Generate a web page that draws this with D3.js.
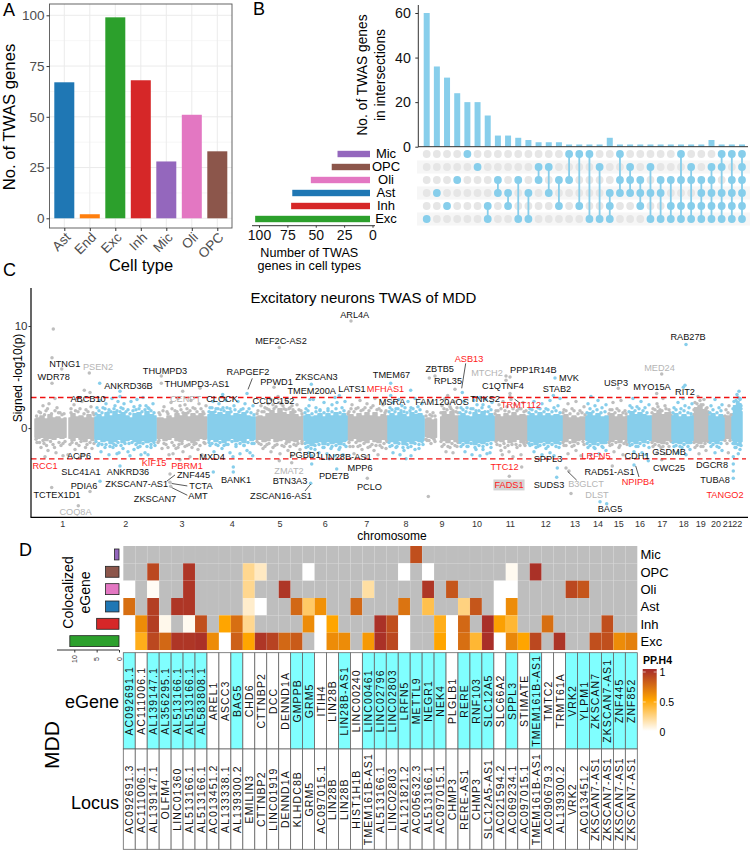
<!DOCTYPE html>
<html><head><meta charset="utf-8">
<style>html,body{margin:0;padding:0;background:#fff}svg{display:block}text{font-family:"Liberation Sans",Arial,sans-serif}</style>
<script src="https://d3js.org/d3.v7.min.js"></script></head>
<body><svg id="c" width="750" height="851"></svg>
<script>
// ---------- Panel A ----------
const cellTypes=["Ast","End","Exc","Inh","Mic","Oli","OPC"];
const twasGenes=[67,2,99,68,28,51,33];
const cellColors=["#1f77b4","#ff7f0e","#2ca02c","#d62728","#9467bd","#e377c2","#8c564b"];
const yTicksA=[0,25,50,75,100];
const minorA=[12.5,37.5,62.5,87.5];
// ---------- Panel B ----------
const setNames=["Mic","OPC","Oli","Ast","Inh","Exc"];
const setSizes=[28,33,51,67,68,99];
const setColors=["#9467bd","#8c564b","#e377c2","#1f77b4","#d62728","#2ca02c"];
const interValues=[60,36,31,24,20,20,14,5,5,4,3,2,2,2,1,1,1,1,4,1,1,1,1,1,1,1,1,1,3,1,1,1];
const interSets=["Exc","Ast","Inh","Oli","Mic","OPC","Inh Exc","Oli Ast","Ast Inh","Oli Exc","Ast Exc","OPC Oli","OPC Ast","Oli Inh","Mic Oli","Mic Inh","Mic Exc","OPC Exc","Ast Inh Exc","Mic Oli Ast","OPC Oli Ast","Oli Ast Inh","OPC Ast Exc","Oli Ast Exc","Oli Inh Exc","Mic Oli Inh Exc","OPC Oli Inh Exc","Oli Ast Inh Exc","OPC Oli Ast Inh Exc","Mic OPC Ast Inh Exc","Mic Oli Ast Inh Exc","Mic OPC Oli Ast Inh Exc"];
const upTicks=[0,20,40,60];
const setTicks=[0,25,50,75,100];
// ---------- Panel C ----------
const chromNames=["1","2","3","4","5","6","7","8","9","10","11","12","13","14","15","16","17","18","19","20","21","22"];
const chromCenters=[31.7,94.7,151,201.3,249,294.3,335.7,375,411,446,479.3,514.7,544,567,587.7,609,631.3,652.7,669.7,685,696.7,706.3];
// dense cores of the clouds: [position, upper edge, lower edge], one list per contiguous block
const coreGray=[
[[4,.9,-.9],[7,1.0,-1.0],[11,1.2,-.9],[15,.9,-1.2],[19,1.3,-1.0],[23,1.0,-1.1],[27,1.1,-.9],[31,.9,-1.0],[35,1.0,-.9]],
[[38,1.0,-1.0],[42,1.4,-1.2],[46,1.1,-.9],[50,1.2,-1.1],[54,1.0,-1.3],[58,1.3,-1.0],[62,1.0,-1.2],[64,1.0,-1.0]],
[[126,1.0,-1.0],[130,1.0,-1.0],[134,.9,-1.2],[138,1.2,-1.1],[142,1.0,-.9],[146,1.4,-1.2],[150,1.2,-1.3],[154,1.5,-1.1],[158,1.1,-1.2],[162,1.4,-1.4],[166,1.2,-1.2],[170,1.4,-1.0],[174,1.1,-1.1],[176,1.1,-1.0]],
[[225,1.1,-1.1],[229,1.2,-1.1],[233,1.1,-1.3],[237,1.4,-1.2],[241,1.7,-1.0],[245,1.4,-1.3],[249,1.9,-1.2],[253,1.5,-1.1],[257,1.3,-1.4],[261,1.6,-1.2],[265,1.3,-1.3],[269,1.1,-1.1],[272,1.2,-1.2]],
[[316,1.2,-1.1],[320,1.3,-1.2],[324,1.1,-1.0],[328,1.4,-1.3],[332,1.2,-1.2],[336,1.5,-1.4],[340,1.2,-1.1],[344,1.5,-1.3],[348,1.1,-1.4],[352,1.3,-1.1],[357,1.2,-1.2]],
[[394,.9,-.8],[398,1.0,-.9],[402,.8,-1.0],[405.5,.9,-.9]],
[[409.7,1.1,-1.1],[413,1.6,-1.2],[417,1.3,-1.4],[421,1.6,-1.1],[425,1.2,-1.3],[428,1.2,-1.2]],
[[463,1.1,-1.2],[467,1.3,-1.2],[471,1.1,-1.3],[475,1.4,-1.1],[479,1.2,-1.4],[483,1.5,-1.3],[487,1.2,-1.1],[491,1.3,-1.4],[497,1.2,-1.2]],
[[531,1.2,-1.2],[535,1.3,-1.3],[539,1.0,-1.0],[543,1.2,-1.4],[547,1.0,-1.2],[551,1.1,-1.1],[555,1.1,-1.1]],
[[577,1.2,-1.2],[581,1.4,-1.3],[585,1.1,-1.1],[589,1.3,-1.4],[593,1.1,-1.1],[597,1.2,-1.2]],
[[620,1.2,-1.2],[624,1.4,-1.3],[628,1.7,-1.4],[632,1.3,-1.5],[636,1.5,-1.2],[641,1.3,-1.2]],
[[662,1.4,-1.2],[665,2.0,-1.4],[669,2.2,-1.5],[673,1.8,-1.3],[678,1.5,-1.2]],
[[693,1.0,-1.0],[697,1.2,-1.0],[701,1.1,-1.0]]
];
const coreBlue=[
[[64,1.1,-1.1],[68,1.3,-1.1],[72,1.1,-1.3],[76,1.5,-1.2],[80,1.2,-1.5],[84,1.6,-1.3],[88,1.3,-1.1],[92,1.5,-1.4],[96,1.2,-1.2],[100,1.0,-1.1],[104,1.4,-1.3],[108,1.5,-1.5],[112,1.2,-1.2],[116,1.6,-1.4],[120,1.3,-1.3],[125,1.2,-1.2]],
[[177,1.3,-1.2],[181,1.6,-1.1],[185,1.3,-1.3],[189,1.5,-1.1],[193,1.3,-1.4],[197,1.6,-1.2],[201,1.2,-1.0],[205,1.4,-1.3],[209,1.3,-1.2],[213,1.5,-1.4],[217,1.2,-1.0],[221,1.1,-1.2],[224,1.1,-1.1]],
[[273,1.2,-1.2],[277,1.3,-1.5],[281,1.1,-1.7],[285,1.2,-1.4],[289,1.4,-1.3],[293,1.1,-1.6],[297,1.4,-1.3],[301,1.2,-1.5],[305,1.5,-1.4],[309,1.2,-1.6],[313,1.4,-1.3],[316,1.2,-1.2]],
[[357,1.2,-1.2],[361,1.4,-1.3],[365,1.2,-1.5],[369,1.5,-1.2],[373,1.3,-1.6],[377,1.1,-1.3],[381,1.5,-1.5],[385,1.3,-1.2],[389,1.4,-1.3],[393,1.2,-1.2]],
[[428,1.2,-1.2],[432,1.4,-1.3],[436,1.2,-1.5],[440,1.1,-1.2],[444,1.5,-1.6],[448,1.3,-1.4],[452,1.6,-1.5],[456,1.2,-1.3],[460,1.4,-1.2],[463,1.2,-1.2]],
[[497,1.2,-1.2],[501,1.4,-1.3],[505,1.2,-1.6],[509,1.5,-1.4],[513,1.2,-1.3],[517,1.4,-1.5],[521,1.2,-1.3],[525,1.3,-1.5],[531,1.2,-1.2]],
[[555,1.2,-1.2],[559,1.5,-1.4],[563,1.2,-1.6],[567,1.4,-1.3],[571,1.1,-1.5],[577,1.2,-1.2]],
[[597,1.2,-1.2],[601,1.6,-1.3],[605,1.3,-1.5],[609,1.5,-1.2],[613,1.3,-1.4],[617,1.2,-1.1],[620,1.2,-1.2]],
[[641,1.2,-1.2],[645,1.4,-1.4],[649,1.1,-1.5],[653,1.3,-1.3],[657,1.1,-1.5],[662,1.2,-1.2]],
[[678,1.2,-1.2],[682,1.4,-1.3],[686,1.1,-1.5],[690,1.3,-1.2],[693,1.2,-1.2]],
[[701,1.4,-1.2],[704,2.2,-1.6],[707,2.6,-1.3],[709,2.4,-1.7],[711,1.6,-1.3]]
];
const pointsGray=[[22.3,9.7],[21,6.9],[30.7,5.8],[21,4.4],[58.3,5.4],[53.3,3.7],[59,3.5],[24,2.9],[14,-2.8],[20.7,-5.8],[59,-6.2],[47.3,-7.6],[49,-2.8],[32,-2.7],[8,1.6],[12,2.2],[15,1.7],[18,2.4],[26,2.0],[29,1.5],[33,1.4],[6,-1.4],[10,-1.9],[13,-1.5],[17,-2.2],[22,-1.6],[25,-2.4],[30,-1.7],[34,-1.3],[40,1.9],[43,2.3],[47,1.6],[51,2.6],[55,1.8],[60,2.1],[62,1.5],[39,-1.6],[44,-2.1],[48,-1.7],[52,-2.6],[56,-1.6],[61,-2.0],[46,2.9],[37,-2.6],
[130.3,5.1],[130.3,4.4],[151.7,3.6],[169,3.9],[139,-4.5],[139,-5.3],[139.7,-5.7],[142,-2.5],[128,1.5],[133,2.1],[136,1.6],[140,2.5],[144,1.7],[147,2.9],[150,1.8],[154,2.3],[157,1.5],[160,2.7],[164,1.9],[168,2.4],[172,1.6],[175,2.2],[127,-1.4],[131,-2.0],[135,-1.6],[138,-2.6],[145,-2.0],[148,-1.6],[152,-2.3],[156,-1.7],[159,-2.8],[163,-1.6],[167,-2.1],[171,-2.6],[174,-1.5],[149,-3.1],
[248.3,7.9],[243,4.0],[237.3,2.4],[248.3,-3.2],[260.7,-3.4],[227,1.7],[230,2.2],[233,1.6],[236,1.9],[240,2.8],[243,1.9],[247,3.1],[250,2.4],[253,1.9],[256,2.6],[259,2.0],[262,1.8],[266,2.3],[270,1.7],[228,-1.5],[232,-2.0],[236,-1.6],[240,-2.3],[244,-1.7],[249,-2.5],[253,-1.8],[257,-2.2],[261,-2.7],[265,-1.7],[269,-2.1],[271,-1.5],
[320,10.5],[336.3,-4.9],[318,1.6],[321,2.3],[325,1.9],[329,2.7],[332,1.8],[336,2.4],[340,2.0],[344,2.9],[348,1.9],[352,2.3],[355,1.7],[319,-1.8],[323,-2.5],[327,-1.8],[331,-2.1],[335,-2.8],[339,-1.8],[343,-2.2],[347,-2.6],[351,-1.9],[355,-2.0],
[398.3,4.9],[404,5.1],[424,3.8],[416.7,3.2],[397.3,-6.7],[396,1.6],[399,1.3],[402,1.5],[411,2.2],[414,2.9],[417,2.4],[420,1.9],[423,2.6],[426,2.0],[396,-1.2],[400,-1.5],[404,-1.3],[411,-1.8],[415,-2.3],[419,-1.9],[422,-2.4],[426,-1.8],
[475,5.1],[479,5.0],[475,4.7],[479,3.4],[479,3.1],[490.7,-3.8],[478.3,-4.7],[471.3,-2.6],[465,1.7],[468,2.3],[472,2.6],[476,2.1],[480,2.8],[484,2.3],[488,1.9],[492,2.5],[495,1.7],[466,-1.6],[470,-2.2],[474,-1.9],[478,-2.3],[482,-2.8],[486,-1.9],[490,-2.6],[494,-1.7],
[540,-6.4],[535,-3.9],[538,-4.2],[533,1.8],[537,2.4],[541,1.9],[545,2.6],[549,1.7],[553,2.1],[533,-1.7],[537,-2.5],[541,-1.8],[545,-2.2],[550,-2.7],[553,-1.6],
[587.3,3.9],[581.3,-3.7],[579,1.8],[582,2.5],[586,1.9],[590,2.7],[594,1.7],[579,-1.7],[583,-2.3],[588,-1.9],[592,-2.6],[596,-1.6],
[630.7,5.3],[625.7,3.4],[632,2.9],[630.7,-3.1],[622,1.9],[626,2.4],[629,1.8],[634,2.2],[638,1.8],[622,-1.8],[626,-2.4],[630,-1.9],[634,-2.5],[638,-1.8],
[664,2.5],[667,3.1],[670,2.3],[673,2.8],[676,2.0],[664,-1.9],[668,-2.5],[672,-1.8],[675,-2.2],[697.3,-2.4],[695,1.8],[698,2.2],[696,-1.5]];
const pointsBlue=[[68.7,4.4],[89,3.6],[89,3.1],[89,-3.7],[69,-5.2],[86,-2.5],[66,2.0],[69,2.7],[72,2.0],[75,2.4],[78,1.8],[81,2.9],[84,2.2],[87,2.6],[90,2.0],[93,2.4],[97,1.8],[100,2.6],[103,2.1],[106,2.8],[109,2.2],[112,3.0],[115,2.2],[118,1.9],[122,2.4],[67,-1.7],[70,-2.3],[74,-1.9],[78,-2.6],[82,-1.9],[85,-1.7],[88,-2.4],[92,-2.0],[97,-2.3],[99,-2.7],[103,-2.1],[107,-1.9],[110,-2.6],[114,-2.4],[117,-2.6],[120,-1.9],[124,-1.7],
[216,3.4],[191.7,3.3],[182.3,-4.3],[202.3,-3.8],[202.3,-4.3],[202,-2.8],[221.7,-2.7],[179,2.0],[182,2.6],[185,1.9],[188,2.4],[192,2.0],[195,2.7],[199,1.9],[203,2.2],[207,2.6],[210,1.8],[214,2.4],[218,1.9],[222,2.2],[179,-1.7],[183,-2.3],[187,-1.7],[191,-2.0],[195,-1.6],[199,-2.4],[205,-1.8],[209,-2.5],[213,-1.7],[216,-2.2],[219,-2.4],[223,-1.5],
[280.3,4.3],[308.3,3.2],[304,3.0],[279,2.8],[282.3,2.8],[279.7,-5.4],[280.7,-3.5],[305.7,-4.0],[298.3,-3.0],[275,1.9],[278,2.2],[285,2.0],[289,1.8],[293,2.5],[297,1.9],[301,2.3],[306,2.5],[311,2.0],[314,2.6],[275,-1.9],[278,-2.4],[281,-2.7],[284,-2.1],[288,-2.4],[292,-1.9],[296,-2.5],[300,-2.0],[304,-2.7],[308,-2.1],[312,-2.6],[315,-1.8],
[359.7,4.4],[359.7,3.2],[379.7,3.7],[375,-3.0],[359,2.0],[362,2.5],[365,1.9],[368,2.8],[371,2.2],[374,2.0],[377,2.6],[380,2.0],[384,2.9],[387,2.1],[391,2.4],[359,-1.8],[362,-2.4],[366,-1.8],[369,-2.6],[373,-2.2],[377,-1.9],[380,-2.7],[384,-2.1],[388,-2.0],[392,-1.6],
[431.3,3.5],[459,-2.4],[430,2.0],[433,2.6],[436,2.0],[440,1.9],[443,2.7],[446,2.3],[449,3.0],[452,2.3],[455,2.8],[458,2.1],[461,2.5],[430,-1.8],[434,-2.3],[437,-1.8],[441,-2.6],[445,-2.1],[449,-2.7],[452,-2.1],[456,-2.5],[460,-1.9],
[524,4.9],[522.3,3.2],[529,2.9],[526.3,-3.9],[525.7,-4.8],[499,1.9],[503,2.6],[507,2.0],[511,2.4],[515,1.9],[519,2.7],[523,2.0],[527,2.2],[499,-1.7],[503,-2.3],[507,-1.8],[511,-2.6],[515,-2.0],[519,-2.4],[523,-2.7],[528,-1.9],
[569,-7.2],[575.7,-7.4],[557,2.4],[560,3.1],[564,2.2],[567,2.7],[571,2.0],[575,2.3],[557,-1.9],[560,-2.6],[564,-2.0],[568,-2.5],[572,-1.9],[575,-2.2],
[603,-3.6],[617.3,-3.2],[599,2.2],[602,2.9],[606,2.1],[610,2.6],[614,2.0],[618,2.3],[599,-1.7],[603,-2.3],[607,-1.8],[611,-2.4],[615,-2.6],[618,-1.9],
[655,8.2],[654,4.2],[652.3,4.0],[652,2.9],[643,2.0],[647,2.5],[650,1.9],[654,2.2],[658,2.0],[661,2.4],[643,-1.8],[647,-2.4],[651,-1.9],[655,-2.6],[659,-2.1],
[680,2.2],[684,2.8],[688,2.0],[691,2.3],[680,-1.8],[684,-2.4],[688,-1.9],[691,-2.2],
[702.3,-2.8],[702.3,-3.5],[702.3,-4.2],[702.3,-4.9],[707.3,-2.5],[703,2.6],[706,3.3],[709,2.9],[705,2.0],[708,3.6],[710,2.2],[704,-1.9],[707,-1.6],[709,-2.1]];
// fringe points closest to the saturated clouds
const innerGray=[[5.5,1.2],[9.5,1.5],[13.5,1.3],[16.5,1.9],[20.5,1.4],[24,1.7],[27.5,1.5],[31,1.3],[5,-1.1],[8.5,-1.4],[12,-1.2],[15.5,-1.7],[19.5,-1.3],[23.5,-1.9],[28,-1.4],[32,-1.5],[40,1.5],[44.5,1.7],[49,1.9],[53,1.4],[57,1.6],[63,1.3],[41,-1.4],[45.5,-1.5],[50,-1.3],[54.5,-1.9],[59,-1.4],[63,-1.5],
[129,1.3],[132,1.7],[137,1.4],[141,1.9],[146,1.6],[149,2.2],[152,1.5],[156,1.9],[159,1.7],[162,2.0],[166,1.6],[170,1.9],[173,1.4],[128,-1.2],[133,-1.5],[137,-1.9],[141,-1.4],[143,-1.7],[147,-1.9],[151,-1.5],[154,-1.8],[158,-1.6],[161,-1.9],[165,-1.5],[169,-1.7],[173,-1.4],
[226,1.4],[231,1.6],[234,2.0],[238,1.8],[242,2.3],[245,2.1],[248,2.5],[252,2.2],[255,1.8],[258,1.9],[261,2.2],[264,1.6],[268,1.8],[271,1.4],[226,-1.3],[230,-1.6],[234,-1.8],[238,-1.5],[242,-1.9],[246,-1.6],[251,-1.7],[255,-1.5],[259,-1.8],[263,-1.6],[267,-1.5],[271,-1.3],
[317,1.4],[320,1.9],[323,1.6],[327,2.0],[330,1.7],[334,2.0],[338,1.7],[342,2.2],[346,1.8],[350,1.7],[354,1.5],[318,-1.4],[322,-1.8],[325,-1.4],[329,-1.7],[333,-1.5],[337,-1.9],[341,-1.6],[345,-1.7],[349,-1.7],[353,-1.5],[356,-1.3],
[395,1.2],[401,1.2],[404,1.2],[410,1.5],[413,1.9],[416,1.8],[419,2.1],[422,1.7],[425,1.6],[427,1.5],[395,-1.1],[398,-1.2],[403,-1.1],[410,-1.3],[413,-1.6],[417,-1.8],[421,-1.5],[424,-1.7],[427,-1.4],
[464,1.4],[467,1.7],[470,1.9],[474,1.7],[478,1.6],[482,1.9],[486,1.7],[490,1.9],[493,1.6],[465,-1.3],[469,-1.7],[473,-1.5],[477,-1.7],[481,-1.6],[485,-1.6],[489,-1.7],[493,-1.5],[496,-1.4],
[532,1.5],[535,1.7],[539,1.4],[543,1.7],[547,1.4],[551,1.5],[554,1.3],[532,-1.4],[535,-1.7],[539,-1.4],[543,-1.7],[547,-1.5],[552,-1.3],
[578,1.4],[581,1.8],[584,1.5],[588,1.7],[592,1.5],[595,1.4],[578,-1.4],[581,-1.6],[585,-1.4],[589,-1.7],[593,-1.5],[595,-1.3],
[621,1.5],[624,1.8],[627,2.1],[631,1.7],[635,1.9],[639,1.5],[621,-1.4],[624,-1.6],[628,-1.7],[632,-1.8],[636,-1.5],[640,-1.3],
[663,1.8],[666,2.4],[669,2.7],[672,2.3],[675,1.9],[677,1.6],[663,-1.4],[666,-1.7],[670,-1.8],[674,-1.5],[677,-1.3],[694,1.2],[697,1.5],[700,1.3],[694,-1.2],[699,-1.2]];
const innerBlue=[[65,1.4],[68,1.7],[71,1.5],[74,1.9],[77,1.5],[80,1.6],[83,1.9],[86,1.7],[89,1.6],[92,1.9],[95,1.6],[99,1.4],[102,1.7],[105,1.8],[108,1.9],[111,1.6],[114,1.8],[117,2.0],[120,1.7],[123,1.5],[65,-1.3],[68,-1.5],[71,-1.6],[75,-1.6],[79,-1.8],[83,-1.6],[87,-1.4],[90,-1.7],[94,-1.5],[98,-1.5],[101,-1.4],[105,-1.6],[109,-1.8],[112,-1.5],[116,-1.8],[120,-1.6],[123,-1.4],
[178,1.6],[181,2.0],[184,1.6],[187,1.9],[190,1.8],[193,1.7],[196,2.0],[200,1.6],[204,1.8],[208,1.6],[212,1.9],[216,1.6],[220,1.5],[223,1.3],[178,-1.4],[181,-1.5],[185,-1.6],[189,-1.4],[193,-1.7],[197,-1.6],[201,-1.3],[205,-1.6],[209,-1.5],[213,-1.7],[217,-1.4],[221,-1.5],
[274,1.5],[277,1.7],[281,1.4],[285,1.6],[289,1.7],[293,1.5],[297,1.7],[301,1.6],[305,1.9],[309,1.5],[313,1.7],[274,-1.5],[277,-1.8],[280,-2.0],[284,-1.7],[288,-1.6],[293,-1.9],[297,-1.6],[301,-1.8],[305,-1.7],[309,-1.9],[313,-1.6],
[358,1.6],[361,1.8],[364,1.6],[367,1.9],[370,1.7],[373,1.6],[376,1.5],[379,1.7],[382,1.9],[385,1.6],[389,1.8],[358,-1.4],[361,-1.7],[365,-1.9],[368,-1.5],[372,-1.9],[376,-1.6],[380,-1.8],[384,-1.5],[388,-1.6],[391,-1.3],
[429,1.5],[432,1.8],[435,1.6],[439,1.5],[442,1.9],[445,1.7],[448,1.7],[451,2.0],[454,1.6],[457,1.6],[460,1.8],[429,-1.4],[432,-1.6],[436,-1.8],[440,-1.5],[444,-1.9],[448,-1.7],[452,-1.8],[456,-1.6],[460,-1.5],
[498,1.5],[501,1.8],[505,1.6],[509,1.9],[513,1.6],[517,1.8],[521,1.6],[525,1.7],[529,1.5],[498,-1.5],[501,-1.6],[505,-1.9],[509,-1.7],[513,-1.6],[517,-1.8],[521,-1.6],[525,-1.8],[529,-1.5],
[556,1.5],[559,1.9],[562,1.6],[566,1.8],[570,1.5],[574,1.6],[556,-1.5],[559,-1.7],[563,-1.9],[567,-1.6],[571,-1.8],[575,-1.4],
[598,1.6],[601,2.0],[604,1.7],[608,1.9],[612,1.7],[616,1.5],[598,-1.4],[601,-1.6],[605,-1.8],[609,-1.5],[613,-1.7],[617,-1.4],
[642,1.5],[645,1.8],[649,1.5],[653,1.7],[657,1.5],[660,1.4],[642,-1.4],[645,-1.7],[649,-1.8],[653,-1.6],[657,-1.8],[660,-1.4],
[679,1.5],[682,1.8],[686,1.5],[690,1.7],[679,-1.4],[682,-1.6],[686,-1.8],[690,-1.5],[702,1.9],[705,2.7],[707,3.0],[709,2.8],[710,1.9],[702,-1.5],[705,-1.9],[708,-1.6],[710,-1.7]];
const labelsBlack=[["NTNG1",33.7,6.25],["WDR78",22.7,5],["THUMPD3",134,5.62],["ANKRD36B",97.5,4.15],["THUMPD3-AS1",166,4.34],["RAPGEF2",217,5.49],["PPWD1",245.5,4.51],["ZKSCAN3",285.5,4.97],["TMEM200A",280.7,3.66],["LATS1",321,3.82],["ARL4A",323.7,11.05],["MEF2C-AS2",250,8.56],["ABCB10",57,2.84],["CLOCK",191,2.84],["CCDC152",242.5,2.68],["MSRA",361,2.52],["FAM120AOS",411,2.52],["TNKS2",454,2.84],["TMEM67",360.5,5.17],["ZBTB5",408.7,5.81],["RPL35",417,4.58],["PPP1R14B",502.3,5.72],["MVK",538,4.9],["C1QTNF4",472,4.12],["STAB2",526,3.79],["USP3",585,4.38],["MYO15A",621,3.99],["RIT2",654,3.56],["RAB27B",657,8.92],["ACP6",48,-2.72],["MXD4",181,-2.81],["SLC41A1",50,-4.34],["ANKRD36",97,-4.28],["ZNF445",162.5,-4.58],["PDIA6",53,-5.62],["ZKSCAN7-AS1",105.7,-5.49],["TCTA",170,-5.66],["AMT",167,-6.67],["BANK1",205,-5.03],["TCTEX1D1",26,-6.54],["ZKSCAN7",124,-6.93],["PGBD1",274,-2.65],["LIN28B-AS1",315,-2.87],["PDE7B",303,-4.71],["BTN3A3",259,-5.17],["MPP6",329,-3.95],["PCLO",338.5,-5.75],["ZSCAN16-AS1",250,-6.6],["SPPL3",517,-3.07],["CDH1",606,-2.75],["GSDMB",638,-2.38],["RAD51-AS1",578.5,-4.28],["SUDS3",518,-5.52],["CWC25",638,-3.95],["DGCR8",681,-3.6],["TUBA8",684,-5.07],["BAG5",579,-7.91]];
const labelsRed=[["MFHAS1",354.5,3.82],["TRMT112",490,2.25],["ASB13",438,6.79],["RCC1",14,-3.73],["KIF15",123,-3.46],["PBRM1",156,-3.73],["TTC12",473.5,-3.85],["FADS1",478,-5.56],["LRFN5",565,-2.75],["NPIPB4",607,-5.26],["TANGO2",694,-6.5]];
const labelsGray=[["PSEN2",67,6],["CENPT",154.5,2.84],["MTCH2",456,5.39],["MED24",628.5,5.91],["COQ8A",44.5,-8.24],["ZMAT2",258,-4.15],["B3GLCT",555,-5.46],["DLST",566,-6.54]];
const boxedLabels=["FADS1"];
const connectors=[[221.3,4.87,217,3.79],[144,-4.58,135.7,-5.2],[156.3,-5.66,140.7,-5.42],[156.3,-6.57,140.7,-5.82],[274,-6.15,279.7,-5.49],[545.7,-5.1,536.7,-4.24],[608,-4.78,604.7,-3.7],[434.7,6.34,430.7,3.9],[483.6,2.84,488,2.52]];
const thresholds=[3,-3];
// ---------- Panel D ----------
const eGenes=["AC092691.1","AC111006.1","AL139147.1","AL356295.1","AL513166.1","AL513166.1","AL583808.1","AREL1","ASCC3","BAG5","CHD6","CTTNBP2","DCC","DENND1A","GMPPB","GRM5","ITIH4","LIN28B","LIN28B-AS1","LINC00240","LINC00461","LINC02796","LINC02803","LRFN5","METTL9","NEGR1","NEK4","PLGLB1","RERE","RNF103","SLC12A5","SLC66A2","SPPL3","STIMATE","TMEM161B-AS1","TMTC2","TRMT61A","VRK2","YLPM1","ZKSCAN7","ZKSCAN7-AS1","ZNF445","ZNF852"];
const loci=["AC092691.3","AC111006.1","AL139147.1","OLFM4","LINC01360","AL513166.1","AL513166.1","AC013451.2","AL133338.1","AL139300.2","EMILIN3","CTTNBP2","LINC01919","DENND1A","KLHDC8B","GRM5","AC097015.1","LIN28B","LIN28B","HIST1H1B","TMEM161B-AS1","AL513166.1","LINC02803","AL121821.2","AC005632.3","AL513166.1","AC097015.1","CHMP3","RERE-AS1","CHMP3","SLC12A5-AS1","AC021594.2","AC069234.1","AC097015.1","TMEM161B-AS1","AC090679.3","AL139300.2","VRK2","AC013451.2","ZKSCAN7-AS1","ZKSCAN7-AS1","ZKSCAN7-AS1","ZKSCAN7-AS1"];
const cyanFlags=[1,0,1,1,1,1,1,0,0,1,0,0,0,0,1,1,0,0,1,0,1,1,1,1,1,1,1,0,1,1,1,0,1,0,1,0,0,1,1,1,1,1,1];
const coloc=[1,3,3,3,5,11]; // Mic, OPC, Oli, Ast, Inh, Exc
const colocTicks=[0,5,10];
const ppMic=[[24,.85]];
const ppOPC=[[2,.88],[5,.95],[10,.22],[11,.12],[15,0],[23,0],[25,0],[32,.03],[34,.97]];
const ppOli=[[0,0],[2,.02],[5,.95],[10,.22],[13,.95],[20,.18],[25,.95],[27,.82],[31,0],[32,0],[37,.88],[38,.82]];
const ppAst=[[0,.72],[2,.92],[4,.95],[5,.95],[10,.1],[11,0],[14,.75],[15,.3],[16,.58],[19,.75],[23,.7],[25,.35],[28,.25],[29,.82],[31,0],[32,.6]];
const ppInh=[[0,0],[1,.6],[2,.92],[3,.04],[5,.03],[6,.85],[8,.5],[9,.72],[10,.22],[15,.6],[16,0],[17,.5],[21,.97],[22,.85],[23,0],[26,.45],[27,0],[28,.75],[30,.98],[31,.52],[32,.4],[35,.72],[40,.85]];
const ppExc=[[0,0],[1,.45],[2,.88],[3,.75],[4,.95],[5,.95],[6,.97],[7,.6],[8,0],[9,.78],[10,.5],[11,.95],[12,.9],[13,.75],[14,.8],[16,0],[17,.6],[18,.6],[20,.55],[21,.97],[22,.88],[23,0],[26,.5],[27,0],[28,.72],[29,.4],[30,.98],[31,0],[32,.62],[33,.5],[34,.88],[36,.96],[39,.85],[40,.85],[41,.6],[42,.65]];
const ppTicks=[0,.5,1];

const svg=d3.select("#c");
const T=(x,y,s,o={})=>{const e=svg.append("text").attr("x",x).attr("y",y).text(s)
 .attr("font-size",o.fs||12).attr("fill",o.fill||"#000").attr("text-anchor",o.a||"middle").attr("dominant-baseline","central");
 if(o.r!==undefined)e.attr("transform",`rotate(${o.r} ${x} ${y})`);if(o.w)e.attr("font-weight",o.w);return e;};
const clean=g=>{g.selectAll(".domain").remove();};

// panel letters
[["A",3,10],["B",253,9],["C",3,270],["D",19,550]].forEach(d=>T(d[1],d[2],d[0],{fs:18,a:"start"}));

// ===== A =====
(function(){
 const L=49.5,R=232,Tp=4,B=228;
 const xPos=d3.scalePoint().domain(cellTypes).range([64.3,217.3]);
 const y=d3.scaleLinear().domain([0,100]).range([218.3,15.3]);
 const g=svg.append("g");
 g.selectAll(".mi").data(minorA).join("line").attr("x1",L).attr("x2",R).attr("y1",y).attr("y2",y).attr("stroke","#f0f0f0").attr("stroke-width",.6);
 g.selectAll(".ma").data(yTicksA).join("line").attr("x1",L).attr("x2",R).attr("y1",y).attr("y2",y).attr("stroke","#ebebeb").attr("stroke-width",1);
 g.selectAll(".v").data(cellTypes).join("line").attr("x1",xPos).attr("x2",xPos).attr("y1",Tp).attr("y2",B).attr("stroke","#ebebeb").attr("stroke-width",1);
 g.selectAll(".b").data(cellTypes).join("rect").attr("x",d=>xPos(d)-10).attr("width",20)
  .attr("y",(d,i)=>y(twasGenes[i])).attr("height",(d,i)=>y(0)-y(twasGenes[i])).attr("fill",(d,i)=>cellColors[i]);
 g.append("rect").attr("x",L).attr("y",Tp).attr("width",R-L).attr("height",B-Tp).attr("fill","none").attr("stroke","#555").attr("stroke-width",.9);
 const ay=g.append("g").attr("transform",`translate(${L},0)`).call(d3.axisLeft(y).tickValues(yTicksA).tickSize(3).tickPadding(2));clean(ay);
 ay.selectAll("text").attr("font-size",13.5).attr("fill","#4d4d4d").attr("font-family","Liberation Sans");ay.selectAll("line").attr("stroke","#333");
 const ax=g.append("g").attr("transform",`translate(0,${B})`).call(d3.axisBottom(xPos).tickSize(3).tickFormat(()=>""));clean(ax);ax.selectAll("line").attr("stroke","#333");
 cellTypes.forEach(c=>T(xPos(c)+4,235,c,{fs:13.5,fill:"#4d4d4d",a:"end",r:-45}));
 T(141,264.5,"Cell type",{fs:16.5});
 T(9,117,"No. of TWAS genes",{fs:16.7,r:-90});
})();

// ===== B =====
(function(){
 const x=d3.scalePoint().domain(d3.range(interValues.length)).range([426.7,742]);
 const y=d3.scaleLinear().domain([0,60]).range([146.7,13]);
 const row=d3.scalePoint().domain(setNames).range([154,219]);
 const g=svg.append("g");
 g.selectAll(".st").data(setNames.filter((d,i)=>i%2==1)).join("rect").attr("x",417).attr("width",333)
  .attr("y",d=>row(d)-6.5).attr("height",13).attr("fill","#f6f6f6");
 g.selectAll(".bar").data(interValues).join("rect").attr("x",(d,i)=>x(i)-3).attr("width",6)
  .attr("y",d=>y(d)).attr("height",d=>y(0)-y(d)).attr("fill","#87CEEB");
 const ay=g.append("g").attr("transform","translate(418.3,0)").call(d3.axisLeft(y).tickValues(upTicks).tickSize(3).tickPadding(4.5));
 ay.select(".domain").attr("stroke","#333").attr("d","M0,5V146.7");
 ay.selectAll("text").attr("font-size",14.2).attr("font-family","Liberation Sans").attr("fill","#111");
 ay.selectAll("line").attr("stroke","#333");
 g.append("line").attr("x1",418).attr("x2",748).attr("y1",y(0)).attr("y2",y(0)).attr("stroke","#333").attr("stroke-width",1);
 T(362,75,"No. of TWAS genes",{fs:13.8,r:-90});
 T(380.7,75,"in intersections",{fs:13.8,r:-90});
 interSets.forEach((s,i)=>{
  const on=s.split(" ");
  g.selectAll(null).data(setNames).join("circle").attr("cx",x(i)).attr("cy",d=>row(d)).attr("r",3.9)
   .attr("fill",d=>on.includes(d)?"#87CEEB":"#e6e6e6");
  if(on.length>1)g.append("line").attr("x1",x(i)).attr("x2",x(i)).attr("y1",d3.min(on,row)).attr("y2",d3.max(on,row)).attr("stroke","#87CEEB").attr("stroke-width",1.8);
 });
 const sx=d3.scaleLinear().domain([0,100]).range([370,254]);
 g.selectAll(".sb").data(setNames).join("rect").attr("x",(d,i)=>sx(setSizes[i])).attr("width",(d,i)=>sx(0)-sx(setSizes[i]))
  .attr("y",d=>row(d)-3.2).attr("height",6.4).attr("fill",(d,i)=>setColors[i]);
 setNames.forEach(n=>T(386,row(n)-.3,n,{fs:13}));
 const tx=d3.scaleLinear().domain([0,100]).range([372.5,259]);
 const a=g.append("g").attr("transform","translate(0,225.7)").call(d3.axisBottom(tx).tickValues(setTicks).tickSize(2).tickPadding(2));
 a.select(".domain").attr("stroke","#333").attr("d","M252,0H375");
 a.selectAll("text").attr("font-size",14).attr("font-family","Liberation Sans").attr("fill","#111");
 a.selectAll("line").attr("stroke","#333");
 T(309.3,252.5,"Number of TWAS",{fs:12.6});
 T(309.3,265.5,"genes in cell types",{fs:12.6});
})();

// ===== C =====
(function(){
 const x=d3.scaleLinear().domain([0,715]).range([31,746]);
 const y=d3.scaleLinear().domain([-8.7,10]).range([517,326]);
 const g=svg.append("g");
 const area=d3.area().x(d=>x(d[0])).y0(d=>y(d[2])).y1(d=>y(d[1])).curve(d3.curveStep);
 const blocks=(data,col)=>g.selectAll(null).data(data).join("path").attr("d",area).attr("fill",col).attr("stroke",col).attr("stroke-width",1.5).attr("stroke-linejoin","round");
 blocks(coreGray,"#bebebe");blocks(coreBlue,"#87CEEB");
 const dots=(data,col)=>g.selectAll(null).data(data).join("circle").attr("cx",d=>x(d[0])).attr("cy",d=>y(d[1])).attr("r",1.75).attr("fill",col);
 dots(innerGray,"#bebebe");dots(innerBlue,"#87CEEB");
 dots(pointsGray,"#bebebe");dots(pointsBlue,"#87CEEB");
 g.selectAll(null).data(thresholds).join("line").attr("x1",31).attr("x2",746).attr("y1",d=>y(d)).attr("y2",d=>y(d))
  .attr("stroke","#f01010").attr("stroke-width",1.3).attr("stroke-dasharray","5.5,3.5");
 g.selectAll(null).data(connectors).join("line").attr("x1",d=>x(d[0])).attr("y1",d=>y(d[1])).attr("x2",d=>x(d[2])).attr("y2",d=>y(d[3])).attr("stroke","#111").attr("stroke-width",.7);
 const lab=(arr,col)=>arr.forEach(d=>{const t=T(x(d[1]),y(d[2]),d[0],{fs:9.2,fill:col});
  if(boxedLabels.includes(d[0])){const b=t.node().getBBox();svg.insert("rect",()=>t.node()).attr("x",b.x-1).attr("y",b.y-.5).attr("width",b.width+2).attr("height",b.height+1).attr("fill","#d3d3d3");}});
 lab(labelsBlack,"#111");lab(labelsGray,"#b5b5b5");lab(labelsRed,"#ff1a1a");
 const ay=g.append("g").attr("transform","translate(31,0)").call(d3.axisLeft(y).tickValues([0,10]).tickSize(2.5).tickPadding(1));
 ay.select(".domain").attr("d","M0,288V517.3").attr("stroke","#000").attr("stroke-width",1.2);
 ay.selectAll("text").attr("font-size",11.5).attr("font-family","Liberation Sans").attr("fill","#333");
 ay.selectAll("line").attr("stroke","#333");
 g.append("line").attr("x1",30.5).attr("x2",748).attr("y1",517.3).attr("y2",517.3).attr("stroke","#000").attr("stroke-width",1.3);
 chromNames.forEach((c,i)=>T(x(chromCenters[i]),523.5,c,{fs:9,fill:"#333"}));
 T(392,536,"chromosome",{fs:12});
 T(18,378,"Signed -log10(p)",{fs:12,r:-90});
 T(363.5,297,"Excitatory neurons TWAS of MDD",{fs:15});
})();

// ===== D =====
(function(){
 const idx=d3.range(eGenes.length);
 const x=d3.scaleBand().domain(idx).range([123.3,637.3]);
 const rows=setNames;
 const y=d3.scaleBand().domain(rows).range([546,650]);
 const color=d3.scaleLinear().domain([0,.5,1]).range(["#ffffff","#ffa500","#a52a2a"]);
 const byRow={Mic:ppMic,OPC:ppOPC,Oli:ppOli,Ast:ppAst,Inh:ppInh,Exc:ppExc};
 const g=svg.append("g");
 rows.forEach(r=>{
  const m=new Map(byRow[r]);
  g.selectAll(null).data(idx).join("rect").attr("x",d=>x(d)).attr("y",y(r)).attr("width",x.bandwidth()).attr("height",y.bandwidth())
   .attr("fill",d=>m.has(d)?color(m.get(d)):"#bebebe");
 });
 g.selectAll(null).data(idx).join("line").attr("x1",d=>x(d)).attr("x2",d=>x(d)).attr("y1",546).attr("y2",650).attr("stroke","#fff").attr("stroke-opacity",.12).attr("stroke-width",.5);
 rows.forEach(r=>T(640.5,y(r)+y.bandwidth()/2,r,{fs:13,a:"start"}));
 const bx=d3.scaleLinear().domain([0,10]).range([119,74.3]);
 g.selectAll(null).data(rows).join("rect").attr("x",(d,i)=>bx(coloc[i])).attr("width",(d,i)=>bx(0)-bx(coloc[i]))
  .attr("y",d=>y(d)+3).attr("height",y.bandwidth()-6.4).attr("fill",(d,i)=>setColors[i]).attr("stroke","#222").attr("stroke-width",.8);
 const a=g.append("g").attr("transform","translate(0,650)").call(d3.axisBottom(bx).tickValues(colocTicks).tickSize(2.5).tickFormat(()=>""));
 a.select(".domain").attr("d","M57,0H119").attr("stroke","#333");a.selectAll("line").attr("stroke","#333");
 colocTicks.forEach(t=>T(bx(t),659,t,{fs:7,r:-90,fill:"#333"}));
 T(67.7,592.5,"Colocalized",{fs:14,r:-90});
 T(85,592.5,"eGene",{fs:14,r:-90});
 const tab=(labels,y0,y1,fill)=>{
  g.selectAll(null).data(idx).join("rect").attr("x",d=>x(d)).attr("y",y0).attr("width",x.bandwidth()).attr("height",y1-y0)
   .attr("fill",fill).attr("stroke","#666").attr("stroke-width",.8);
  labels.forEach((s,i)=>{
   g.append("text").text(s).attr("font-size",10.5).attr("letter-spacing",1.1).attr("text-anchor","middle").attr("dominant-baseline","central").attr("fill","#111")
    .attr("transform",`translate(${x(i)+x.bandwidth()/2},${(y0+y1)/2}) rotate(-90)`);
  });
 };
 tab(eGenes,652.7,749,d=>cyanFlags[d]?"#80ffff":"#ffffff");
 tab(loci,749,849.3,()=>"#ffffff");
 T(119,701.7,"eGene",{fs:18,a:"end"});
 T(119,802.7,"Locus",{fs:18,a:"end"});
 T(51.7,745,"MDD",{fs:21,r:-90});
 const ly=d3.scaleLinear().domain([0,1]).range([732,672]);
 const defs=svg.append("defs").append("linearGradient").attr("id","pp").attr("x1",0).attr("x2",0).attr("y1",1).attr("y2",0);
 ppTicks.forEach(t=>defs.append("stop").attr("offset",t).attr("stop-color",color(t)));
 g.append("rect").attr("x",642.7).attr("width",14).attr("y",ly(1)-3).attr("height",ly(0)-ly(1)+2).attr("fill","url(#pp)");
 ppTicks.filter(t=>t>0).forEach(t=>{[642.7,653.7].forEach(x0=>g.append("line").attr("x1",x0).attr("x2",x0+3).attr("y1",ly(t)).attr("y2",ly(t)).attr("stroke","#fff").attr("stroke-width",.6));});
 ppTicks.forEach(t=>T(659.5,ly(t),d3.format("")(t),{fs:10.5,a:"start"}));
 T(643,660,"PP.H4",{fs:10.5,a:"start",w:"bold"});
})();
</script></body></html>
